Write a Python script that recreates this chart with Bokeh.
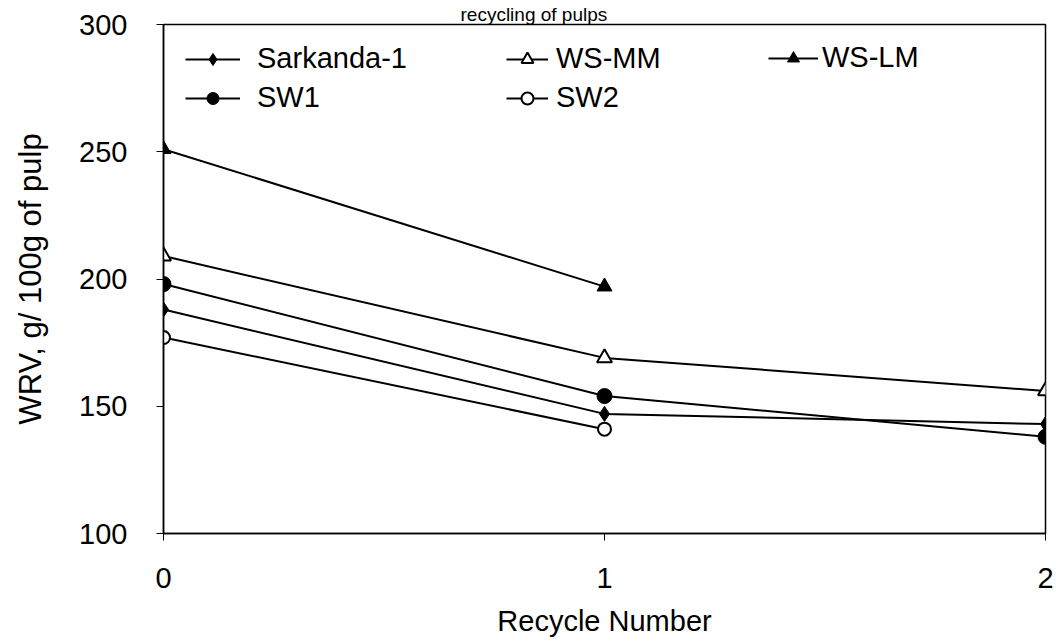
from bokeh.plotting import figure
from bokeh.models import Legend, LegendItem, Range1d, FixedTicker
from bokeh.embed import file_html
from bokeh.resources import INLINE

# ---- data ----
recycle = [0, 1, 2]
recycle_short = [0, 1]
sarkanda = [188, 147, 143]
ws_mm = [209, 169, 156]
ws_lm = [251, 197]
sw1 = [198, 154, 138]
sw2 = [177, 141]
x_ticks = [0, 1, 2]
y_ticks = [100, 150, 200, 250, 300]
title_text = "recycling of pulps"
x_title = "Recycle Number"
y_title = "WRV, g/ 100g of pulp"

FONT = "Liberation Sans"
FS = "29px"

p = figure(width=1056, height=641, output_backend="svg", toolbar_location=None,
           x_range=Range1d(0, 2), y_range=Range1d(100, 300),
           min_border_left=163, min_border_right=11, min_border_top=24, min_border_bottom=108)
p.background_fill_color = "white"
p.border_fill_color = "white"
p.outline_line_color = "black"
p.outline_line_width = 1.5
p.xgrid.visible = False
p.ygrid.visible = False

p.title.text = title_text
p.title.text_font = FONT
p.title.text_font_size = "19px"
p.title.text_font_style = "normal"
p.title.text_color = "black"
p.title.align = "left"
p.title.offset = 297
p.title.standoff = 0

for ax in (p.xaxis[0], p.yaxis[0]):
    ax.axis_line_color = "black"
    ax.axis_line_width = 1.5
    ax.major_tick_line_color = "black"
    ax.major_tick_in = 0
    ax.major_tick_out = 7
    ax.minor_tick_line_color = None
    ax.major_label_text_font = FONT
    ax.major_label_text_font_size = FS
    ax.major_label_text_color = "black"
    ax.axis_label_text_font = FONT
    ax.axis_label_text_font_size = FS
    ax.axis_label_text_font_style = "normal"
    ax.axis_label_text_color = "black"

p.xaxis.ticker = FixedTicker(ticks=x_ticks)
p.yaxis.ticker = FixedTicker(ticks=y_ticks)
p.xaxis.axis_label = x_title
p.yaxis.axis_label = y_title
p.yaxis.axis_label_text_font_size = "31px"
p.xaxis.major_label_standoff = 27
p.xaxis.axis_label_standoff = 14
p.yaxis.major_label_standoff = 29
p.yaxis.axis_label_standoff = 28

LW = 2
l_s = p.line(recycle, sarkanda, line_color="black", line_width=LW)
m_s = p.scatter(recycle, sarkanda, marker="diamond", size=15, fill_color="black", line_color="black")
l_mm = p.line(recycle, ws_mm, line_color="black", line_width=LW)
m_mm = p.scatter(recycle, ws_mm, marker="triangle", size=15, fill_color="white", line_color="black", line_width=2)
l_lm = p.line(recycle_short, ws_lm, line_color="black", line_width=LW)
m_lm = p.scatter(recycle_short, ws_lm, marker="triangle", size=15, fill_color="black", line_color="black")
l_1 = p.line(recycle, sw1, line_color="black", line_width=LW)
m_1 = p.scatter(recycle, sw1, marker="circle", size=15, fill_color="black", line_color="black")
l_2 = p.line(recycle_short, sw2, line_color="black", line_width=LW)
m_2 = p.scatter(recycle_short, sw2, marker="circle", size=13, fill_color="white", line_color="black", line_width=2)


def make_legend(items, loc, gw, standoff):
    lg = Legend(items=items, location=loc)
    lg.border_line_color = None
    lg.background_fill_alpha = 0
    lg.label_text_font = FONT
    lg.label_text_font_size = FS
    lg.label_text_color = "black"
    lg.glyph_width = gw
    lg.glyph_height = 30
    lg.label_height = 30
    lg.label_standoff = standoff
    lg.spacing = 6
    lg.padding = 0
    lg.margin = 0
    return lg

leg1 = make_legend([LegendItem(label="Sarkanda-1", renderers=[l_s, m_s]),
                    LegendItem(label="SW1", renderers=[l_1, m_1])], (22, 419), 55, 17)
leg2 = make_legend([LegendItem(label="WS-MM", renderers=[l_mm, m_mm]),
                    LegendItem(label="SW2", renderers=[l_2, m_2])], (343, 419), 42, 8)
leg3 = make_legend([LegendItem(label="WS-LM", renderers=[l_lm, m_lm])], (605, 459), 50, 4)
for lg in (leg1, leg2, leg3):
    p.add_layout(lg, "center")

open("out.html", "w").write(file_html(p, INLINE))
